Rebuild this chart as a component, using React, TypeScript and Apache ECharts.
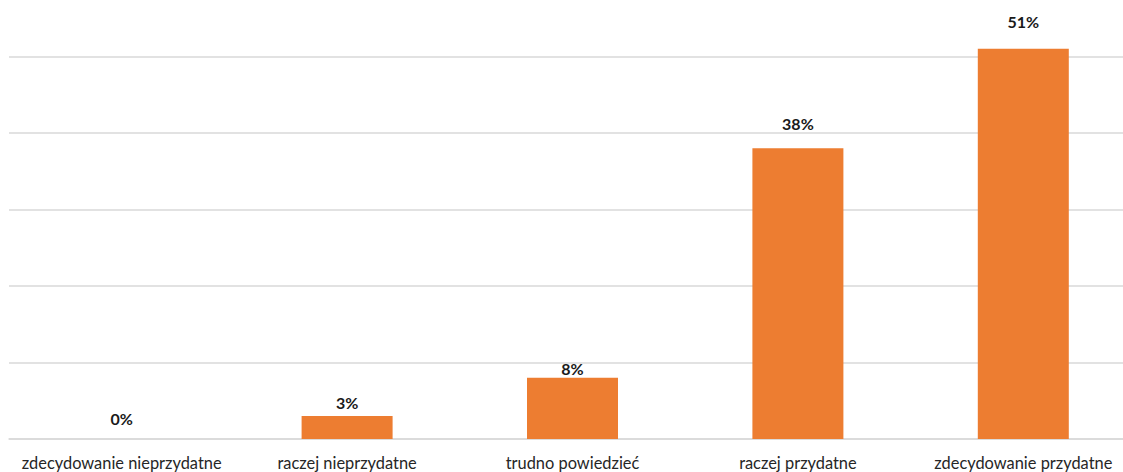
import React, { useEffect, useRef } from "react";
import * as echarts from "echarts";

const categories = [
  "zdecydowanie nieprzydatne",
  "raczej nieprzydatne",
  "trudno powiedzieć",
  "raczej przydatne",
  "zdecydowanie przydatne",
];
const values = [0, 3, 8, 38, 51];
// label distances above bars (styling)
const labelDistances = [13, 6, 1, 17, 19];

export default function App() {
  const ref = useRef<HTMLDivElement>(null);
  useEffect(() => {
    if (!ref.current) return;
    const chart = echarts.init(ref.current, undefined, { renderer: "svg" });
    chart.setOption({
      animation: false,
      backgroundColor: "#ffffff",
      grid: { left: 9, right: 0, top: 0, bottom: 33, containLabel: false },
      xAxis: {
        type: "category",
        data: categories,
        axisLine: { show: true, lineStyle: { color: "#d9d9d9", width: 1.5 } },
        axisTick: { show: false },
        axisLabel: {
          color: "#262626",
          fontFamily: "Lato",
          fontSize: 16.4,
          margin: 15,
          interval: 0,
        },
      },
      yAxis: {
        type: "value",
        min: 0,
        max: 60,
        interval: 10,
        axisLabel: { show: false },
        axisLine: { show: false },
        axisTick: { show: false },
        splitLine: { lineStyle: { color: "#d9d9d9", width: 1.5 } },
      },
      series: [
        {
          type: "bar",
          barWidth: 91,
          itemStyle: { color: "#ED7D31" },
          label: {
            show: true,
            position: "top",
            formatter: "{c}%",
            color: "#1a1a1a",
            fontFamily: "Lato",
            fontWeight: "bold",
            fontSize: 16,
          },
          data: values.map((v, i) => ({
            value: v,
            label: { distance: labelDistances[i] },
          })),
        },
      ],
    });
    return () => chart.dispose();
  }, []);
  return (
    <div
      ref={ref}
      style={{ position: "fixed", left: 0, top: -20, width: 1136, height: 492 }}
    />
  );
}
